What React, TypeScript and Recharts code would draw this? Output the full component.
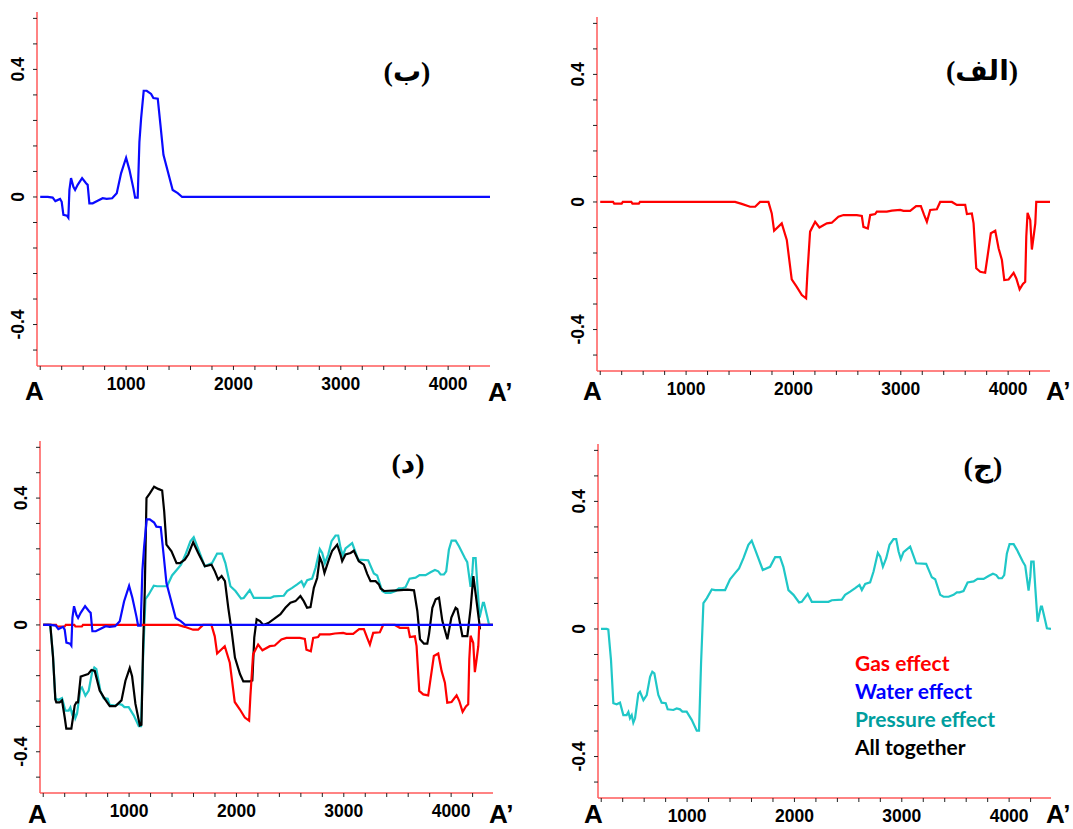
import { LineChart, Line, XAxis, YAxis } from 'recharts'

// distance along profile A–A' (m) and relative effect
const xTicks = [200, 400, 600, 800, 1000, 1200, 1400, 1600, 1800, 2000, 2200, 2400, 2600, 2800, 3000, 3200, 3400, 3600, 3800, 4000, 4200]
const xLabels = [1000, 2000, 3000, 4000]
const yTicks = [-0.48, -0.4, -0.32, -0.24, -0.16, -0.08, 0, 0.08, 0.16, 0.24, 0.32, 0.4, 0.48, 0.56]
const yLabels = [-0.4, 0, 0.4]

const waterEffect: [number, number][] = [
  [200, 0], [270, 0], [316, -0.002], [341, -0.013], [385, -0.006], [400, -0.015], [416, -0.056], [450, -0.059],
  [462, -0.065], [472, 0.022], [487, 0.059], [509, 0.032], [525, 0.022], [549, 0.038], [590, 0.059], [627, 0.043],
  [642, 0.038], [658, -0.02], [689, -0.02], [735, -0.012], [782, -0.004], [819, -0.006], [870, -0.004], [913, 0.012],
  [953, 0.074], [1000, 0.123], [1031, 0.085], [1068, 0.027], [1084, -0.002], [1108, -0.002], [1124, 0.173],
  [1140, 0.247], [1164, 0.333], [1192, 0.333], [1233, 0.323], [1254, 0.31], [1295, 0.308], [1320, 0.226],
  [1348, 0.132], [1434, 0.022], [1481, 0.012], [1522, 0], [4390, 0],
]

const gasEffect: [number, number][] = [
  [200, 0], [320, 0], [330, -0.005], [400, -0.005], [410, 0], [490, 0], [500, -0.005], [560, -0.005], [570, 0],
  [1456, 0], [1518, -0.006], [1596, -0.015], [1643, -0.015], [1689, 0], [1767, 0], [1798, -0.036], [1820, -0.09],
  [1891, -0.067], [1938, -0.119], [1984, -0.243], [2031, -0.266], [2078, -0.292], [2118, -0.302], [2130, -0.224],
  [2155, -0.093], [2202, -0.062], [2242, -0.08], [2311, -0.067], [2357, -0.065], [2419, -0.046], [2466, -0.041],
  [2590, -0.041], [2637, -0.044], [2652, -0.078], [2693, -0.083], [2715, -0.041], [2761, -0.038], [2777, -0.03],
  [2870, -0.03], [2917, -0.027], [2994, -0.025], [3025, -0.028], [3087, -0.028], [3143, -0.013], [3187, -0.013],
  [3218, -0.041], [3243, -0.062], [3274, -0.025], [3336, -0.023], [3367, 0], [3476, 0], [3522, -0.009],
  [3600, -0.009], [3616, -0.038], [3662, -0.036], [3678, -0.067], [3703, -0.208], [3740, -0.219], [3786, -0.222],
  [3808, -0.171], [3839, -0.098], [3880, -0.09], [3911, -0.145], [3942, -0.182], [3964, -0.245], [4004, -0.243],
  [4051, -0.222], [4076, -0.24], [4107, -0.274], [4138, -0.257], [4159, -0.25], [4169, -0.109], [4181, -0.034],
  [4206, -0.057], [4221, -0.149], [4237, -0.109], [4253, -0.067], [4262, 0], [4390, 0],
]

const pressureEffect: [number, number][] = [
  [198, 0], [251, 0], [266, -0.002], [291, -0.097], [313, -0.233], [344, -0.236], [375, -0.231], [406, -0.27],
  [437, -0.27], [453, -0.26], [468, -0.28], [484, -0.27], [499, -0.294], [515, -0.28], [546, -0.202], [561, -0.197],
  [593, -0.223], [624, -0.207], [655, -0.15], [676, -0.134], [695, -0.139], [732, -0.207], [763, -0.231],
  [801, -0.233], [819, -0.252], [872, -0.254], [903, -0.249], [934, -0.252], [956, -0.259], [996, -0.259],
  [1043, -0.285], [1090, -0.319], [1111, -0.319], [1130, -0.108], [1152, 0.081], [1183, 0.096], [1230, 0.124],
  [1261, 0.122], [1354, 0.122], [1400, 0.156], [1447, 0.175], [1484, 0.19], [1525, 0.222], [1571, 0.264],
  [1602, 0.277], [1640, 0.243], [1705, 0.185], [1773, 0.195], [1820, 0.225], [1866, 0.225], [1897, 0.195],
  [1944, 0.122], [1991, 0.107], [2043, 0.083], [2068, 0.085], [2124, 0.11], [2162, 0.085], [2317, 0.085],
  [2348, 0.09], [2441, 0.092], [2472, 0.107], [2519, 0.117], [2566, 0.128], [2606, 0.138], [2628, 0.122],
  [2659, 0.141], [2705, 0.146], [2737, 0.18], [2777, 0.239], [2799, 0.227], [2824, 0.195], [2855, 0.222],
  [2886, 0.264], [2923, 0.282], [2948, 0.282], [2970, 0.243], [2991, 0.219], [3016, 0.241], [3078, 0.258],
  [3134, 0.206], [3227, 0.204], [3280, 0.162], [3311, 0.156], [3358, 0.107], [3389, 0.101], [3436, 0.101],
  [3482, 0.107], [3513, 0.115], [3538, 0.115], [3575, 0.119], [3613, 0.146], [3669, 0.149], [3706, 0.157],
  [3762, 0.157], [3808, 0.166], [3849, 0.173], [3880, 0.169], [3902, 0.159], [3933, 0.159], [3954, 0.169],
  [3979, 0.237], [4004, 0.266], [4042, 0.266], [4073, 0.248], [4128, 0.211], [4150, 0.198], [4181, 0.12],
  [4197, 0.164], [4206, 0.211], [4228, 0.211], [4243, 0.133], [4265, 0.023], [4296, 0.07], [4306, 0.07],
  [4337, 0.025], [4352, 0.002], [4390, 0],
]

const allTogether: [number, number][] = [
  [200, 0], [266, 0], [291, -0.1], [313, -0.235], [322, -0.244], [353, -0.244], [375, -0.238], [400, -0.291],
  [415, -0.327], [462, -0.327], [478, -0.291], [493, -0.254], [509, -0.244], [524, -0.244], [549, -0.163],
  [571, -0.16], [618, -0.155], [649, -0.142], [680, -0.145], [726, -0.207], [773, -0.233], [820, -0.256],
  [873, -0.256], [929, -0.238], [966, -0.176], [1006, -0.136], [1028, -0.162], [1059, -0.249], [1100, -0.317],
  [1115, -0.315], [1131, -0.061], [1146, 0.107], [1162, 0.4], [1193, 0.415], [1233, 0.436], [1271, 0.429],
  [1308, 0.424], [1327, 0.358], [1348, 0.253], [1395, 0.232], [1442, 0.195], [1473, 0.195], [1519, 0.206],
  [1551, 0.222], [1597, 0.261], [1644, 0.227], [1706, 0.185], [1768, 0.19], [1799, 0.169], [1830, 0.143],
  [1862, 0.154], [1893, 0.138], [1924, 0.054], [1955, -0.019], [1986, -0.103], [2033, -0.155], [2064, -0.178],
  [2126, -0.178], [2148, -0.175], [2166, -0.04], [2188, 0.018], [2219, 0.012], [2250, 0], [2297, 0.006],
  [2347, 0.018], [2410, 0.034], [2456, 0.054], [2503, 0.07], [2550, 0.075], [2596, 0.091], [2627, 0.075],
  [2658, 0.054], [2690, 0.056], [2721, 0.117], [2752, 0.148], [2777, 0.213], [2798, 0.196], [2820, 0.164],
  [2861, 0.206], [2892, 0.234], [2938, 0.253], [2969, 0.222], [2985, 0.201], [3016, 0.222], [3063, 0.227],
  [3094, 0.234], [3140, 0.201], [3187, 0.19], [3218, 0.161], [3249, 0.138], [3296, 0.138], [3327, 0.128],
  [3343, 0.115], [3374, 0.107], [3498, 0.109], [3591, 0.111], [3654, 0.109], [3685, 0.044], [3710, -0.045],
  [3747, -0.059], [3778, -0.059], [3794, -0.029], [3825, 0.054], [3856, 0.081], [3887, 0.086], [3918, 0.013],
  [3965, -0.045], [4002, 0.023], [4042, 0.054], [4058, 0.05], [4105, -0.035], [4151, -0.035], [4182, 0.054],
  [4207, 0.154], [4229, 0.096], [4260, 0.013], [4269, -0.014],
]

const GAS = '#ff0000'
const WATER = '#0a0aff'
const PRESSURE = '#1fc7c7'
const ALL = '#000000'
const AXIS_RED = '#ff5a5a'
const FONT = '"Liberation Sans", Arial, sans-serif'

const toRows = (pts: [number, number][]) => pts.map(([x, y]) => ({ x, y }))

type Series = { name: string; color: string; pts: [number, number][] }

function YTick(props: any) {
  const { x, y, payload } = props
  const lbl = yLabels.find((l) => Math.abs(l - payload.value) < 1e-6)
  if (lbl === undefined) return <g />
  const bx = x - 7
  return (
    <text
      x={bx}
      y={y}
      transform={`rotate(-90 ${bx} ${y})`}
      textAnchor="middle"
      fontFamily={FONT}
      fontSize={17.5}
      fontWeight={700}
      fill="#000"
    >
      {String(lbl)}
    </text>
  )
}

function Panel(props: {
  left: number
  top: number
  width: number
  height: number
  yw: number
  mt: number
  xh: number
  series: Series[]
}) {
  const { left, top, width, height, yw, mt, xh, series } = props
  return (
    <div style={{ position: 'absolute', left, top }}>
      <LineChart width={width} height={height} margin={{ top: mt, right: 10, bottom: 0, left: 0 }}>
        <XAxis
          dataKey="x"
          type="number"
          domain={[170, 4390]}
          allowDataOverflow
          ticks={xTicks}
          interval={0}
          height={xh}
          tickSize={4}
          tickMargin={8}
          tickFormatter={(v: number) => (xLabels.includes(v) ? String(v) : '')}
          tick={{ fill: '#000', fontSize: 17.5, fontWeight: 700, fontFamily: FONT }}
          axisLine={{ stroke: AXIS_RED, strokeWidth: 1.5 }}
          tickLine={{ stroke: '#222' }}
        />
        <YAxis
          type="number"
          domain={[-0.53, 0.58]}
          allowDataOverflow
          ticks={yTicks}
          interval={0}
          width={yw}
          tickSize={4}
          tickMargin={2}
          tick={<YTick />}
          axisLine={{ stroke: AXIS_RED, strokeWidth: 1.5 }}
          tickLine={{ stroke: '#222' }}
        />
        {series.map((s) => (
          <Line
            key={s.name}
            data={toRows(s.pts)}
            dataKey="y"
            name={s.name}
            type="linear"
            stroke={s.color}
            strokeWidth={2.2}
            dot={false}
            isAnimationActive={false}
          />
        ))}
      </LineChart>
    </div>
  )
}

const gasS: Series = { name: 'Gas effect', color: GAS, pts: gasEffect }
const waterS: Series = { name: 'Water effect', color: WATER, pts: waterEffect }
const pressureS: Series = { name: 'Pressure effect', color: PRESSURE, pts: pressureEffect }
const allS: Series = { name: 'All together', color: ALL, pts: allTogether }

const legendItems = [
  { label: 'Gas effect', color: '#ff0000' },
  { label: 'Water effect', color: '#0000ff' },
  { label: 'Pressure effect', color: '#009e9e' },
  { label: 'All together', color: '#000000' },
]

export default function App() {
  const aStyle = { fontFamily: FONT, fontSize: 26, fontWeight: 700, fill: '#000' }
  const tagStyle = { fontFamily: '"Liberation Serif", "DejaVu Sans", serif', fontSize: 28, fontWeight: 700, fill: '#000' }
  return (
    <div style={{ position: 'absolute', left: 0, top: 0, width: 1073, height: 829, background: '#fff', overflow: 'hidden' }}>
      <Panel left={0} top={0} width={500} height={410} yw={37} mt={12} xh={44} series={[waterS]} />
      <Panel left={560} top={0} width={500} height={410} yw={37} mt={17} xh={39} series={[gasS]} />
      <Panel left={0} top={420} width={503} height={409} yw={40} mt={21} xh={36} series={[pressureS, allS, gasS, waterS]} />
      <Panel left={560} top={420} width={501} height={409} yw={38} mt={24} xh={31} series={[pressureS]} />

      <svg width={1073} height={829} style={{ position: 'absolute', left: 0, top: 0, pointerEvents: 'none' }}>
        <text x={25} y={400} {...aStyle}>A</text>
        <text x={488} y={401} {...aStyle}>A’</text>
        <text x={583} y={400} {...aStyle}>A</text>
        <text x={1046} y={400} {...aStyle}>A’</text>
        <text x={28} y={823} {...aStyle}>A</text>
        <text x={489} y={823} {...aStyle}>A’</text>
        <text x={584} y={823} {...aStyle}>A</text>
        <text x={1046} y={823} {...aStyle}>A’</text>

        <text x={407} y={81} textAnchor="middle" {...tagStyle}>(ب)</text>
        <text x={982} y={80} textAnchor="middle" {...tagStyle}>(الف)</text>
        <text x={408} y={473} textAnchor="middle" {...tagStyle}>(د)</text>
        <text x={983} y={476} textAnchor="middle" {...tagStyle}>(ج)</text>

        {legendItems.map((it, i) => (
          <text
            key={it.label}
            x={855}
            y={671 + i * 28}
            fontFamily="Lato, 'Open Sans', sans-serif"
            fontSize={21}
            fontWeight={700}
            fill={it.color}
          >
            {it.label}
          </text>
        ))}
      </svg>
    </div>
  )
}
